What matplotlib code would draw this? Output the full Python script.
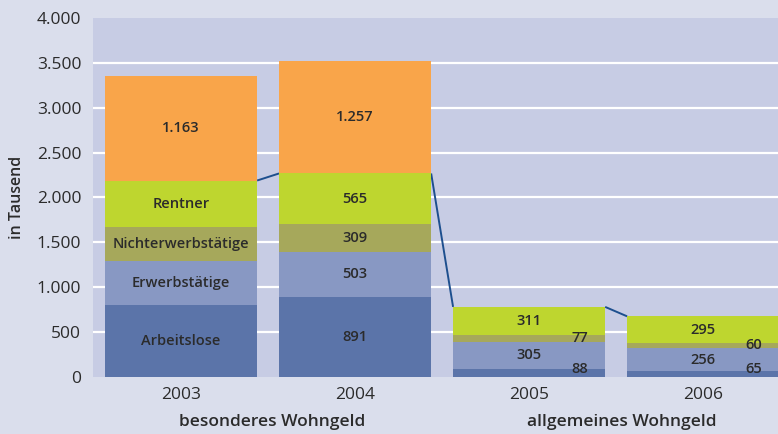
import matplotlib
matplotlib.use("Agg")
import matplotlib.pyplot as plt
import numpy as np

plt.rcParams['font.family'] = ['Open Sans', 'DejaVu Sans']

years = ["2003", "2004", "2005", "2006"]
arbeitslose = [800, 891, 88, 65]
erwerbstaetige = [489, 503, 305, 256]
nichterwerb = [378, 309, 77, 60]
rentner = [522, 565, 311, 295]
sonstige = [1163, 1257, 0, 0]
series_names = ["Arbeitslose", "Erwerbstätige", "Nichterwerbstätige", "Rentner", ""]
groups = ["besonderes Wohngeld", "allgemeines Wohngeld"]
yticks = [0, 500, 1000, 1500, 2000, 2500, 3000, 3500, 4000]

colors = ["#5b74a9", "#8898c3", "#a6a85b", "#bed62f", "#f9a54a"]
fig_bg = "#dadeec"
ax_bg = "#c7cce4"
txt = "#2b2b2b"

def fmt(v):
    return f"{v:,}".replace(",", ".")

fig = plt.figure(figsize=(7.78, 4.34), dpi=100, facecolor=fig_bg)
ax = fig.add_axes([93/778, 57/434, 1 - 93/778, (377-18)/434])
ax.set_facecolor(ax_bg)

x = np.arange(len(years))
w = 0.874
data = [arbeitslose, erwerbstaetige, nichterwerb, rentner, sonstige]
bottom = np.zeros(len(years))
bottoms = []
for vals, col in zip(data, colors):
    vals = np.array(vals, dtype=float)
    ax.bar(x, vals, w, bottom=bottom, color=col, zorder=3, linewidth=0)
    bottoms.append(bottom.copy())
    bottom = bottom + vals

# labels
for si, vals in enumerate(data):
    for i, v in enumerate(vals):
        if v == 0:
            continue
        b = bottoms[si][i]
        if i == 0 and series_names[si]:
            s = series_names[si]
        else:
            s = fmt(v)
        xx = x[i]
        yy = b + v / 2
        if v < 100:
            xx = x[i] + 0.29
            yy = max(yy + 8, 90)
        ax.text(xx, yy, s, ha="center", va="center", fontsize=10.5,
                fontweight="semibold", color=txt, zorder=5)

# connecting lines between tops of Rentner segments
rtop = [bottoms[3][i] + rentner[i] for i in range(len(years))]
for i in range(len(years) - 1):
    ax.plot([x[i] + w/2, x[i+1] - w/2], [rtop[i], rtop[i+1]],
            color="#1d4f8e", lw=1.4, zorder=2, solid_capstyle="butt")

ax.set_ylim(0, 4000)
ax.set_xlim(-0.506, 3.43)
ax.set_yticks(yticks)
ax.set_yticklabels([fmt(t) for t in yticks], fontsize=12.5, color=txt)
ax.set_xticks(x)
ax.set_xticklabels(years, fontsize=12.5, color=txt)
ax.tick_params(length=0, pad=7)
ax.tick_params(axis="y", pad=8.5)
for t in yticks[1:-1]:
    ax.axhline(t, color="white", lw=1.6, zorder=1)
for sp in ax.spines.values():
    sp.set_visible(False)

ax.set_ylabel("in Tausend", fontsize=11.5, fontweight="semibold", color=txt)
ax.yaxis.set_label_coords((25 - 93) / 685, 0.5)

fig.text(272/778, 1 - 422/434, groups[0], ha="center", va="center",
         fontsize=12.5, fontweight="semibold", color=txt)
fig.text(622/778, 1 - 422/434, groups[1], ha="center", va="center",
         fontsize=12.5, fontweight="semibold", color=txt)

fig.savefig("out.png", dpi=100, facecolor=fig_bg)
